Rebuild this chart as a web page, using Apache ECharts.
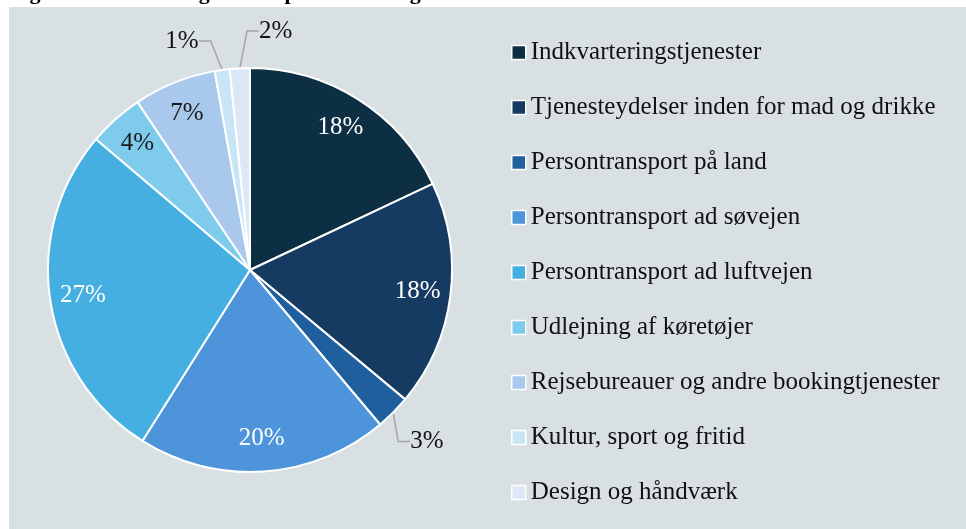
<!DOCTYPE html>
<html>
<head>
<meta charset="utf-8">
<script src="https://cdn.jsdelivr.net/npm/echarts@6/dist/echarts.min.js"></script>
<style>html,body{margin:0;padding:0;background:#fff;}#c{width:966px;height:529px;}</style>
</head>
<body>
<div id="c"></div>
<script>
const categories = [
  'Indkvarteringstjenester',
  'Tjenesteydelser inden for mad og drikke',
  'Persontransport på land',
  'Persontransport ad søvejen',
  'Persontransport ad luftvejen',
  'Udlejning af køretøjer',
  'Rejsebureauer og andre bookingtjenester',
  'Kultur, sport og fritid',
  'Design og håndværk'
];
const shares = [18.0, 18.1, 2.8, 20.1, 27.3, 4.4, 6.6, 1.2, 1.6];
const colors = ['#0c2f43', '#163b62', '#1f5f9e', '#4e94da', '#46afe2', '#7ecbec', '#a8c8ec', '#c7e5f5', '#dde8f6'];
const outsideLabels = [false, false, true, false, false, false, false, true, true];
const whiteLabels = [true, true, false, true, true, false, false, false, false];
const titleText = 'Figur 3.6 Omsætning fordelt på hovedkategorier af turisme';

const FONT = '"Liberation Serif", "DejaVu Serif", serif';
const fmt = p => Math.round(p.percent) + '%';

const mainData = categories.map((name, i) => ({
  name, value: shares[i],
  itemStyle: { color: colors[i] },
  label: { show: outsideLabels[i] },
  labelLine: { show: outsideLabels[i] }
}));
const innerData = categories.map((name, i) => ({
  name, value: shares[i],
  label: { show: !outsideLabels[i], color: whiteLabels[i] ? '#ffffff' : '#1a1a1a' }
}));

// label placement for the small outside labels, relative to each slice's own box
function smallLabelLayout(p) {
  if (p.seriesIndex !== 0) return {};
  const r = p.rect;
  if (p.dataIndex === 2) return { x: r.x + r.width + 4, y: r.y + r.height + 16, align: 'left', verticalAlign: 'middle' };
  if (p.dataIndex === 7) return { x: r.x - 15, y: r.y - 27, align: 'right', verticalAlign: 'middle' };
  if (p.dataIndex === 8) return { x: r.x + r.width + 8, y: r.y - 36, align: 'left', verticalAlign: 'middle' };
  return {};
}

const chart = echarts.init(document.getElementById('c'), null, { renderer: 'canvas' });
chart.setOption({
  backgroundColor: '#ffffff',
  animation: false,
  graphic: [
    { type: 'rect', z: -10, silent: true, shape: { x: 9, y: 7, width: 966, height: 529 }, style: { fill: '#d9e0e3' } },
    { type: 'text', z: -5, silent: true, left: 10, top: -18, style: { text: titleText, font: 'bold 22px ' + FONT, fill: '#000' } }
  ],
  legend: {
    orient: 'vertical',
    left: 511, top: 40, padding: 0,
    itemWidth: 14, itemHeight: 14, itemGap: 30,
    icon: 'rect',
    itemStyle: { borderColor: '#ffffff', borderWidth: 1.5 },
    textStyle: { fontFamily: FONT, fontSize: 25, color: '#111', padding: [0, 0, 0, 0] },
    data: categories
  },
  series: [
    {
      type: 'pie',
      center: [250, 270],
      radius: [0, 202],
      startAngle: 90,
      clockwise: true,
      itemStyle: { borderColor: '#ffffff', borderWidth: 2 },
      label: { position: 'outside', formatter: fmt, fontFamily: FONT, fontSize: 25, color: '#111' },
      labelLine: { length: 20, length2: 12, lineStyle: { color: '#a6a6a6', width: 1.5 } },
      labelLayout: smallLabelLayout,
      data: mainData
    },
    {
      type: 'pie',
      center: [250, 270],
      radius: [130, 202],
      startAngle: 90,
      clockwise: true,
      silent: true,
      itemStyle: { color: 'rgba(0,0,0,0)', borderWidth: 0 },
      label: { position: 'inside', formatter: fmt, fontFamily: FONT, fontSize: 25 },
      labelLine: { show: false },
      emphasis: { disabled: true },
      data: innerData
    }
  ]
});
</script>
</body>
</html>
